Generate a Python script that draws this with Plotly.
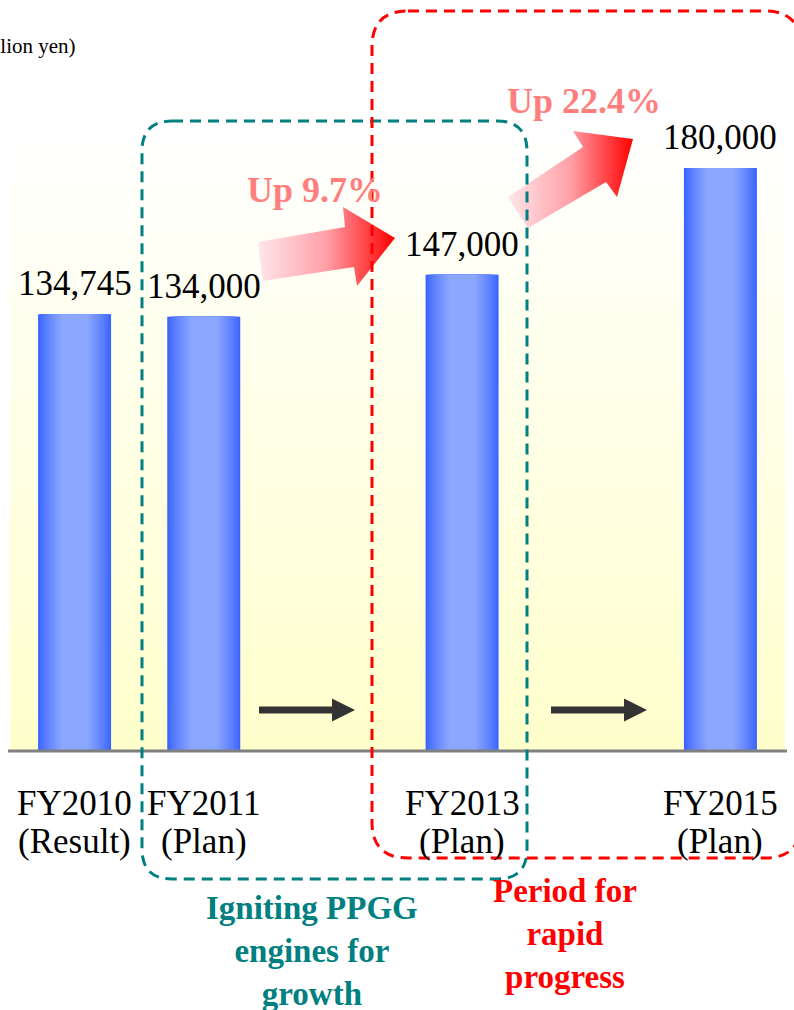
import plotly.graph_objects as go

# ---------------- data ----------------
categories = ["FY2010", "FY2011", "FY2012", "FY2013", "FY2014", "FY2015"]
sublabels = ["(Result)", "(Plan)", "", "(Plan)", "", "(Plan)"]
sales = [134745, 134000, None, 147000, None, 180000]
growth_labels = ["Up 9.7%", "Up 22.4%"]
period_labels = ["Igniting PPGG<br>engines for<br>growth", "Period for<br>rapid<br>progress"]
unit_label = "(Million yen)"

# ---------------- style / layout constants ----------------
W, H = 794, 1010
SERIF = "Liberation Serif, Times New Roman, serif"
TEAL = "#008080"
RED = "#FF0000"
PINK = "#FF7F7F"

fig = go.Figure()

# bars with a horizontal (cylinder-like) gradient, built from overlaid bars
N = 14
dark = (58, 100, 255)
light = (140, 167, 255)
BAR_W = 0.565
for k in range(N):
    t = k / (N - 1)
    f = 1 - 0.64 * t
    tc = t ** 0.8
    c = tuple(round(d + (l - d) * tc) for d, l in zip(dark, light))
    fig.add_trace(go.Bar(
        x=categories, y=sales, width=BAR_W * f,
        marker=dict(color="rgb(%d,%d,%d)" % c, line_width=0),
        hoverinfo="skip", showlegend=False,
    ))

# background vertical gradient (white top -> pale yellow bottom)
NB = 60
for i in range(NB):
    y0 = i / NB
    y1 = (i + 1) / NB
    s = 1 - (y0 + y1) / 2
    b = round(255 - 51 * s)
    fig.add_shape(type="rect", xref="x domain", yref="y domain",
                  x0=0, x1=1, y0=y0, y1=min(1, y1 + 0.003),
                  fillcolor="rgb(255,255,%d)" % b, line_width=0, layer="below")

# decorative gradient arrows (pixel coordinates on an overlay subplot)
RED_ARROWS = [
    [(258, 242), (345, 227), (343, 207), (395, 238), (357, 286), (354, 267), (263, 281)],
    [(508, 197), (583, 147), (573, 131), (633, 139), (617, 197), (606, 182), (528, 228)],
]
for pts in RED_ARROWS:
    xs = [p[0] for p in pts] + [pts[0][0]]
    ys = [p[1] for p in pts] + [pts[0][1]]
    fig.add_trace(go.Scatter(
        x=xs, y=ys, xaxis="x2", yaxis="y2", mode="lines", fill="toself",
        line=dict(width=0, color="rgba(0,0,0,0)"),
        fillgradient=dict(type="horizontal",
                          colorscale=[[0, "#FFE6EA"], [0.5, "#FFA0A8"], [1, "#FF0000"]]),
        hoverinfo="skip", showlegend=False,
    ))

# black arrows in the gap years
for (xa, xb, xt) in [(259, 332, 355), (551, 624, 647)]:
    yc = 710
    path = (f"M{xa},{yc-3.5} L{xb},{yc-3.5} L{xb},{yc-11.5} L{xt},{yc} "
            f"L{xb},{yc+11.5} L{xb},{yc+3.5} L{xa},{yc+3.5} Z")
    fig.add_shape(type="path", xref="x2", yref="y2", path=path,
                  fillcolor="#333333", line_width=0, layer="above")

# baseline
fig.add_shape(type="line", xref="x2", yref="y2", x0=8, x1=787, y0=751, y1=751,
              line=dict(color="#808080", width=3), layer="below")


def rounded(x0, y0, x1, y1, r):
    return (f"M{x0+r},{y0} L{x1-r},{y0} Q{x1},{y0} {x1},{y0+r} "
            f"L{x1},{y1-r} Q{x1},{y1} {x1-r},{y1} L{x0+r},{y1} "
            f"Q{x0},{y1} {x0},{y1-r} L{x0},{y0+r} Q{x0},{y0} {x0+r},{y0} Z")


fig.add_shape(type="path", xref="x2", yref="y2", path=rounded(142, 121, 527, 879, 30),
              line=dict(color=TEAL, width=3, dash="11px,7px"), layer="above")
fig.add_shape(type="path", xref="x2", yref="y2", path=rounded(372, 11, 801, 858, 36),
              line=dict(color=RED, width=3, dash="11px,7px"), layer="above")

# value labels
for cat, v in zip(categories, sales):
    if v is None:
        continue
    fig.add_annotation(x=cat, y=v, xref="x", yref="y", text=f"{v:,}",
                       showarrow=False, yanchor="bottom", yshift=9,
                       font=dict(family=SERIF, size=35, color="black"))

# category labels
for cat, sub, v in zip(categories, sublabels, sales):
    if v is None:
        continue
    fig.add_annotation(x=cat, y=803, xref="x", yref="y2", text=cat, showarrow=False,
                       yanchor="middle", font=dict(family=SERIF, size=35, color="black"))
    fig.add_annotation(x=cat, y=841, xref="x", yref="y2", text=sub, showarrow=False,
                       yanchor="middle", font=dict(family=SERIF, size=35, color="black"))

# growth labels
for txt, (gx, gy) in zip(growth_labels, [(315, 190), (584, 101)]):
    fig.add_annotation(x=gx, y=gy, xref="x2", yref="y2", text=f"<b>{txt}</b>",
                       showarrow=False, yanchor="middle",
                       font=dict(family=SERIF, size=36, color=PINK))

# period labels
for txt, (px, py), col in zip(period_labels, [(312, 951), (565, 934)], [TEAL, RED]):
    fig.add_annotation(x=px, y=py, xref="x2", yref="y2", text=f"<b>{txt}</b>",
                       showarrow=False, yanchor="middle",
                       font=dict(family=SERIF, size=33, color=col))

# unit label (partially cut at the left edge)
fig.add_annotation(x=78, y=46, xref="x2", yref="y2", text=unit_label, showarrow=False,
                   xanchor="right", yanchor="middle",
                   font=dict(family=SERIF, size=21, color="black"))

fig.update_layout(
    width=W, height=H, margin=dict(l=0, r=0, t=0, b=0),
    paper_bgcolor="white", plot_bgcolor="rgba(0,0,0,0)",
    barmode="overlay", showlegend=False,
    xaxis=dict(domain=[10 / W, 785 / W], type="category", categoryorder="array",
               categoryarray=categories, range=[-0.5, 5.5], showticklabels=False,
               ticks="", showgrid=False, zeroline=False, showline=False, fixedrange=True),
    yaxis=dict(domain=[1 - 750 / H, 1 - 133 / H], range=[0, 190800], visible=False,
               fixedrange=True),
    xaxis2=dict(domain=[0, 1], range=[0, W], anchor="y2", visible=False, fixedrange=True),
    yaxis2=dict(domain=[0, 1], range=[H, 0], anchor="x2", visible=False, fixedrange=True),
)

fig.write_html("out.html")
